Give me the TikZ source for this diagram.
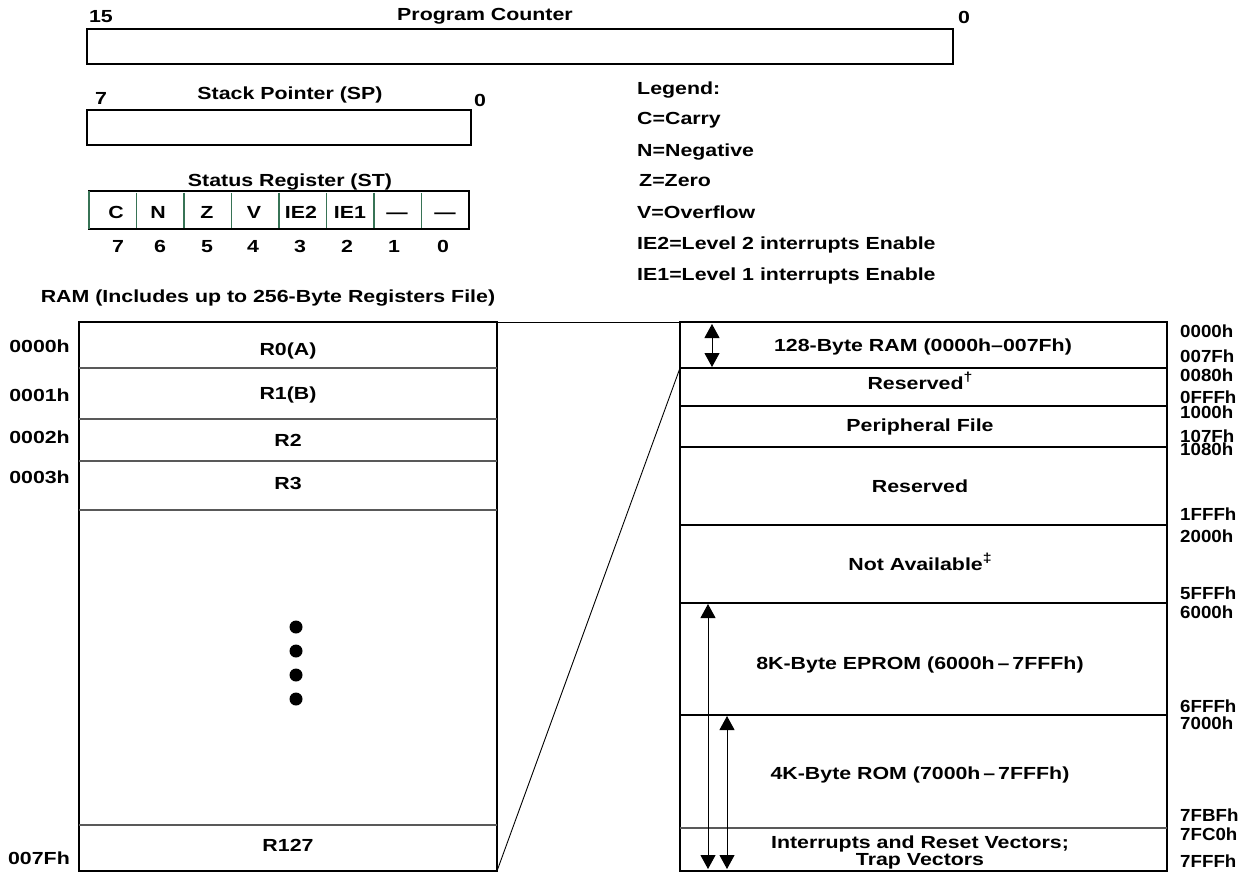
\documentclass[tikz,border=0pt]{standalone}
\usepackage{fontspec}
\setmainfont{Liberation Sans}[FakeStretch=1.22]
\newfontfamily\narrowfam{Liberation Sans}[FakeStretch=1.07]
\usetikzlibrary{arrows.meta}
\definecolor{stgreen}{RGB}{55,115,85}
\newcommand{\lfont}{\fontsize{17.5}{19}\selectfont\bfseries}
\newcommand{\nfont}{\narrowfam\fontsize{17.5}{19}\selectfont\bfseries}
\newcommand{\fnmark}[1]{\raisebox{0.42em}{\fontsize{13}{13}\selectfont #1}}
\tikzset{
  txt/.style={font=\lfont, inner sep=0pt, anchor=mid, yshift=-3.5pt},
  ltxt/.style={txt, anchor=mid west},
  rtxt/.style={txt, anchor=mid east},
  addr/.style={txt, anchor=mid west, font=\nfont},
  boxline/.style={draw, line width=2.8pt, inner sep=0pt, outer sep=0pt, anchor=north west},
  rowline/.style={line width=1.8pt},
  faintline/.style={line width=1.1pt, draw=black!65},
  grnline/.style={line width=1.3pt, draw=stgreen},
  conn/.style={line width=0.9pt},
  dblarrow/.style={line width=1pt, {Triangle[width=15pt,length=14pt]}-{Triangle[width=15pt,length=14pt]}},
}
\begin{document}
\begin{tikzpicture}[x=1pt,y=-1pt]
\useasboundingbox (0,0) rectangle (1239,875);
% Program counter
\node[boxline, minimum width=866pt, minimum height=35pt] (pc) at (87,29) {};
\node[txt] (pc15) at (101,16) {15};
\node[txt] (pcname) at (485,14) {Program Counter};
\node[txt] (pc0) at (964,17) {0};
% Stack pointer
\node[boxline, minimum width=384pt, minimum height=35pt] (sp) at (87,110) {};
\node[txt] (sp7) at (101,98) {7};
\node[txt] (spname) at (290,93) {Stack Pointer (SP)};
\node[txt] (sp0) at (480,100) {0};
% Status register
\node[boxline, minimum width=380pt, minimum height=38pt] (st) at (89,191) {};
\draw[grnline] (89,191) -- (89,229);
\foreach \i in {1,...,7} {
  \draw[grnline] ({89+47.5*\i},192.5) -- ({89+47.5*\i},227.5);
}
\node[txt] (stname) at (290,180) {Status Register (ST)};
\foreach \lab/\xx [count=\i from 0] in {C/116,N/158,Z/207,V/254,IE2/301,IE1/350,---/397,---/445} {
  \node[txt] (stc\i) at (\xx,212) {\lab};
}
\foreach \b/\xx [count=\i from 0] in {7/118,6/160,5/207,4/253,3/300,2/347,1/394,0/443} {
  \node[txt] (stb\i) at (\xx,246) {\b};
}
% Legend
\node[ltxt] (lg0) at (637,88) {Legend:};
\node[ltxt] (lg1) at (637,118) {C=Carry};
\node[ltxt] (lg2) at (637,150) {N=Negative};
\node[ltxt] (lg3) at (639,180) {Z=Zero};
\node[ltxt] (lg4) at (637,212) {V=Overflow};
\node[ltxt] (lg5) at (637,243) {IE2=Level 2 interrupts Enable};
\node[ltxt] (lg6) at (637,274) {IE1=Level 1 interrupts Enable};
% RAM title
\node[txt] (ramtitle) at (268,296) {RAM (Includes up to 256-Byte Registers File)};
% Left RAM box
\node[boxline, minimum width=418pt, minimum height=549pt] (ram) at (79,322) {};
\foreach \yy in {368,419,461,510,825} {
  \draw[faintline] (79,\yy) -- (497,\yy);
}
\node[txt] (r0) at (288,349) {R0(A)};
\node[txt] (r1) at (288,393) {R1(B)};
\node[txt] (r2) at (288,440) {R2};
\node[txt] (r3) at (288,483) {R3};
\node[txt] (r127) at (288,845) {R127};
\foreach \yy in {627,651,675,699} {
  \fill (296,\yy) circle (6.5pt);
}
\node[rtxt] (la0) at (70,346) {0000h};
\node[rtxt] (la1) at (70,395) {0001h};
\node[rtxt] (la2) at (70,437) {0002h};
\node[rtxt] (la3) at (70,477) {0003h};
\node[rtxt] (la4) at (70,858) {007Fh};
% Right memory box
\node[boxline, minimum width=487pt, minimum height=549pt] (mem) at (680,322) {};
\foreach \yy in {368,406,447,525,603,715} {
  \draw[rowline] (680,\yy) -- (1167,\yy);
}
\draw[faintline] (680,828) -- (1167,828);
\coordinate (m1) at (680,368);
\node[txt] (mt1) at (923,345) {128-Byte RAM (0000h--007Fh)};
\node[txt] (mt2) at (920,383) {Reserved\fnmark{†}};
\node[txt] (mt3) at (920,425) {Peripheral File};
\node[txt] (mt4) at (920,486) {Reserved};
\node[txt] (mt5) at (920,564) {Not Available\fnmark{‡}};
\node[txt] (mt6) at (920,663) {8K-Byte EPROM (6000h\,--\,7FFFh)};
\node[txt] (mt7) at (920,773) {4K-Byte ROM (7000h\,--\,7FFFh)};
\node[txt] (mt8) at (920,842) {Interrupts and Reset Vectors;};
\node[txt] (mt9) at (920,859) {Trap Vectors};
\foreach \lab/\yy [count=\i] in {0000h/331,007Fh/356,0080h/375,0FFFh/397,1000h/412,107Fh/436,1080h/449,1FFFh/514,2000h/536,5FFFh/593,6000h/612,6FFFh/706,7000h/723,7FBFh/815,7FC0h/834,7FFFh/861} {
  \node[addr] (ra\i) at (1180,\yy) {\lab};
}
% arrows
\coordinate (a1t) at (712,324);
\coordinate (a1b) at (712,367);
\coordinate (a2t) at (708,604);
\coordinate (a2b) at (708,869);
\coordinate (a3t) at (727,716);
\coordinate (a3b) at (727,869);
\draw[dblarrow] (a1t) -- (a1b);
\draw[dblarrow] (a2t) -- (a2b);
\draw[dblarrow] (a3t) -- (a3b);
% connectors
\draw[conn] (ram.north east) -- (mem.north west);
\draw[conn] (ram.south east) -- (m1);
\end{tikzpicture}
\end{document}
